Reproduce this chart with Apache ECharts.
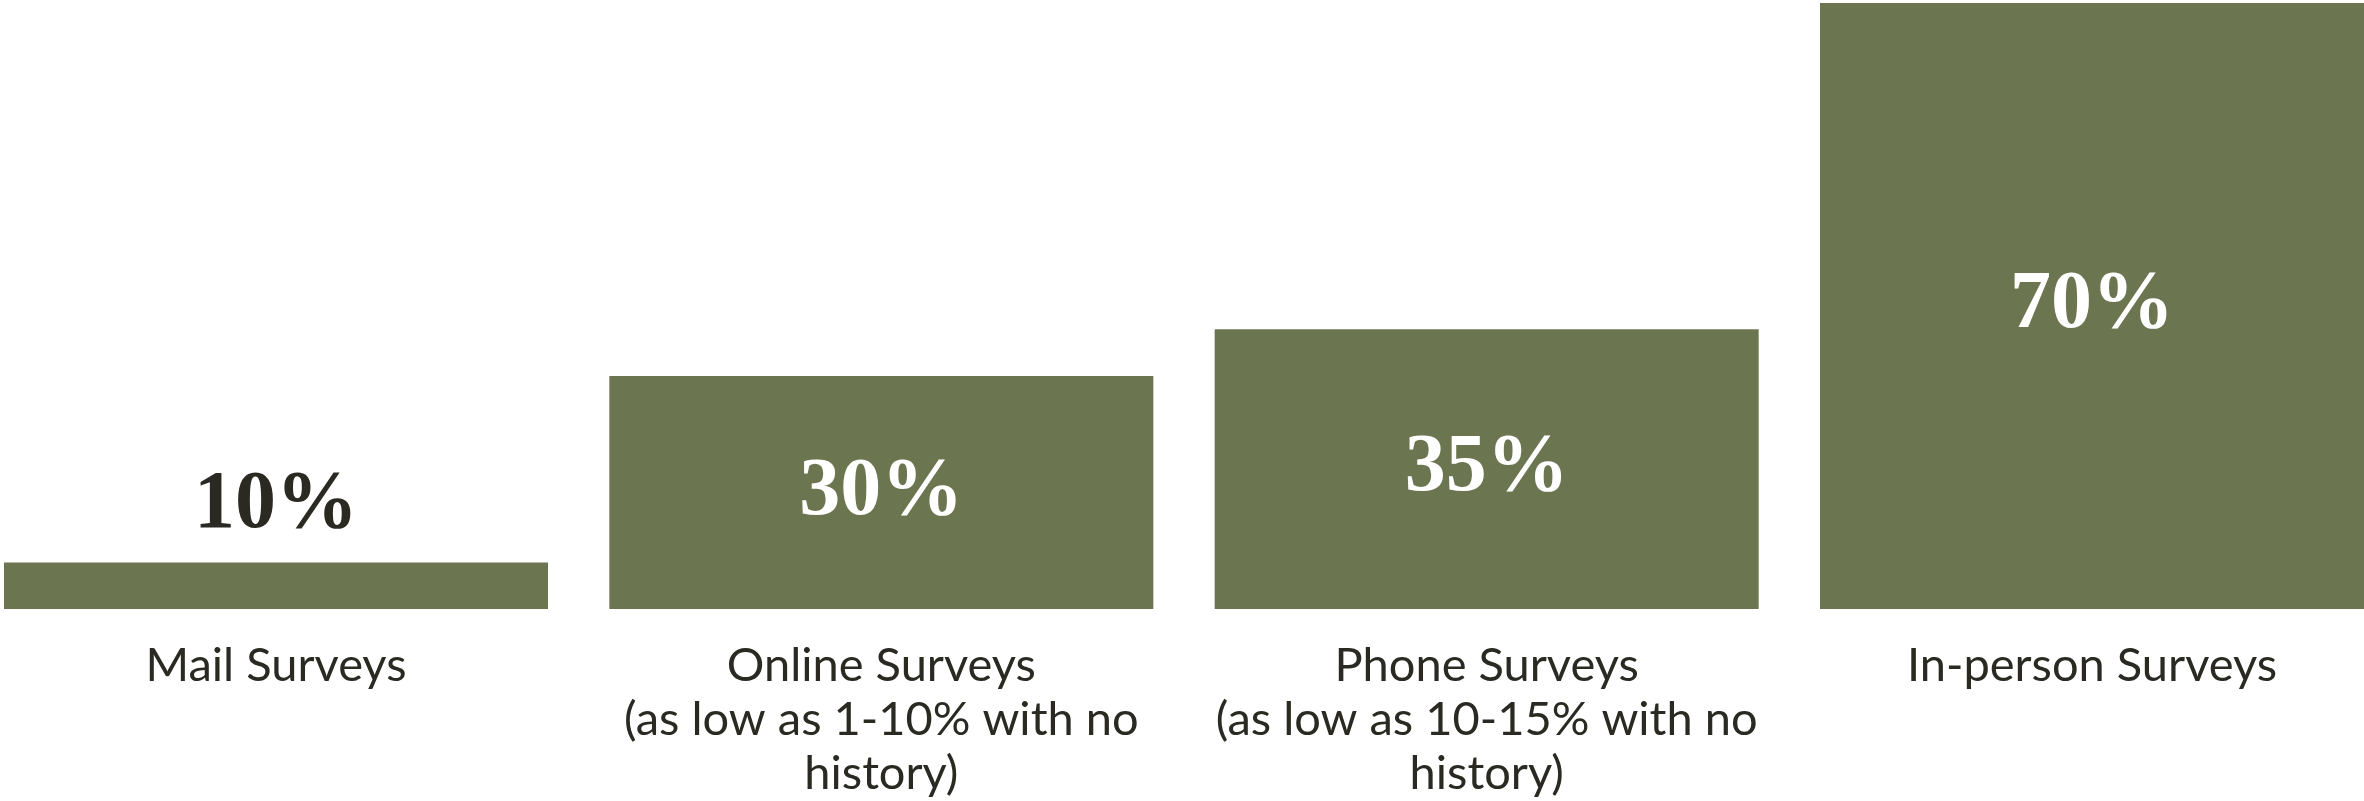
<!DOCTYPE html>
<html>
<head>
<meta charset="utf-8">
<style>
  html, body { margin: 0; padding: 0; background: #ffffff; }
  #chart { width: 2364px; height: 801px; }
</style>
<script src="https://cdn.jsdelivr.net/npm/echarts@6/dist/echarts.min.js"></script>
</head>
<body>
<div id="chart"></div>
<script>
// Response rate by survey method
const categories = [
  'Mail Surveys',
  'Online Surveys\n(as low as 1-10% with no\nhistory)',
  'Phone Surveys\n(as low as 10-15% with no\nhistory)',
  'In-person Surveys'
];
const responseRates = [10, 30, 35, 70];

const BAR_COLOR = '#6b7550';
const TEXT_DARK = '#2a2a22';

const chart = echarts.init(document.getElementById('chart'), null, { renderer: 'canvas' });

chart.setOption({
  backgroundColor: '#ffffff',
  animation: false,
  // category ticks sit on the bar centres; the outer bars run to the page edges
  grid: { left: 276, right: 272, top: 3, height: 606, containLabel: false },
  xAxis: {
    type: 'category',
    data: categories,
    boundaryGap: false,
    axisLine: { show: false },
    axisTick: { show: false },
    splitLine: { show: false },
    axisLabel: {
      interval: 0,
      margin: 30,
      color: TEXT_DARK,
      fontFamily: 'Lato',
      fontSize: 47,
      lineHeight: 54,
      align: 'center'
    }
  },
  yAxis: {
    type: 'value',
    min: 5,
    max: 70,
    startValue: 5,
    show: false,
    splitLine: { show: false }
  },
  series: [{
    type: 'bar',
    clip: false,
    data: responseRates.map(function (v, i) {
      const inside = i > 0;
      return {
        value: v,
        label: {
          show: true,
          position: inside ? 'inside' : 'top',
          distance: 16,
          color: inside ? '#ffffff' : TEXT_DARK
        }
      };
    }),
    barWidth: 544,
    itemStyle: { color: BAR_COLOR },
    label: {
      show: true,
      formatter: '{c}%',
      fontFamily: 'Liberation Serif',
      fontWeight: 'bold',
      fontSize: 82
    }
  }]
});
</script>
</body>
</html>
